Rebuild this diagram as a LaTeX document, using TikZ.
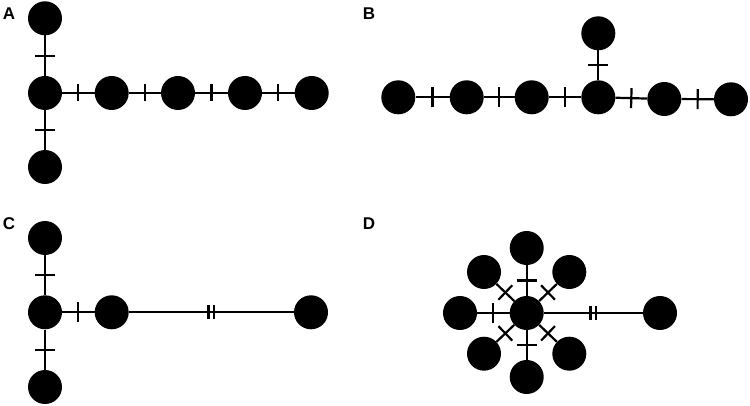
\documentclass[tikz,border=0pt]{standalone}
\usepackage{fontspec}
\setmainfont{Liberation Sans}
\usetikzlibrary{decorations.markings}
\begin{document}
\begin{tikzpicture}[x=1pt,y=-1pt,
  dot/.style={circle,fill=black,inner sep=0pt,minimum size=34pt},
  lbl/.style={font=\bfseries\fontsize{17}{19}\selectfont,inner sep=0pt},
  edge/.style={line width=2.2pt},
  tk/.style={postaction={decorate},decoration={markings,
     mark=at position 0.5 with {\draw[line width=2.2pt] (0,-#1pt) -- (0,#1pt);}}},
  tk/.default=10,
  tktwo/.style={postaction={decorate},decoration={markings,
     mark=at position 0.5 with {\draw[line width=2.2pt] (-2.8pt,-7pt) -- (-2.8pt,7pt) (2.8pt,-7pt) -- (2.8pt,7pt);}}}
]
\useasboundingbox (0,0) rectangle (750,406);
% labels
\node[lbl] (LA) at (9,14) {A};
\node[lbl] (LB) at (369,14) {B};
\node[lbl] (LC) at (9,224) {C};
\node[lbl] (LD) at (369,224) {D};
% Panel A
\node[dot] (a0) at (45,93) {};
\node[dot] (a1) at (45,18.3) {};
\node[dot] (a2) at (45,167) {};
\node[dot] (a3) at (111.7,93) {};
\node[dot] (a4) at (178,93) {};
\node[dot] (a5) at (245,93) {};
\node[dot] (a6) at (311.7,93) {};
\draw[edge,tk] (a1) -- (a0);
\draw[edge,tk] (a0) -- (a2);
\draw[edge,tk=8.5] (a0) -- (a3);
\draw[edge,tk=8.5] (a3) -- (a4);
\draw[edge,tk=8.5] (a4) -- (a5);
\draw[edge,tk=8.5] (a5) -- (a6);
% Panel B
\node[dot] (b1) at (398.3,97.3) {};
\node[dot] (b2) at (466.7,97.3) {};
\node[dot] (b3) at (531.7,97.3) {};
\node[dot] (b4) at (598.3,97.3) {};
\node[dot] (b5) at (664.3,99) {};
\node[dot] (b6) at (731,99.3) {};
\node[dot] (b7) at (598.3,33.3) {};
\draw[edge,tk] (b1) -- (b2);
\draw[edge,tk] (b2) -- (b3);
\draw[edge,tk] (b3) -- (b4);
\draw[edge,tk] (b4) -- (b5);
\draw[edge,tk] (b5) -- (b6);
\draw[edge,tk] (b7) -- (b4);
% Panel C
\node[dot] (c0) at (45,312.3) {};
\node[dot] (c1) at (45,238) {};
\node[dot] (c2) at (45,387) {};
\node[dot] (c3) at (111.7,312.3) {};
\node[dot] (c4) at (311,312.3) {};
\draw[edge,tk] (c1) -- (c0);
\draw[edge,tk] (c0) -- (c2);
\draw[edge,tk] (c0) -- (c3);
\draw[edge,tktwo] (c3) -- (c4);
% Panel D
\node[dot] (d0) at (526.7,313) {};
\node[dot] (dt) at (526.7,248) {};
\node[dot] (db) at (526.7,377) {};
\node[dot] (dl) at (460,313) {};
\node[dot] (dul) at (484,272) {};
\node[dot] (dur) at (569.3,272) {};
\node[dot] (dll) at (484,353.7) {};
\node[dot] (dlr) at (569.3,353.7) {};
\node[dot] (dfar) at (660,313) {};
\draw[edge,tk] (dt) -- (d0);
\draw[edge,tk] (d0) -- (db);
\draw[edge,tk] (dl) -- (d0);
\draw[edge,tk] (dul) -- (d0);
\draw[edge,tk] (dur) -- (d0);
\draw[edge,tk] (dll) -- (d0);
\draw[edge,tk] (dlr) -- (d0);
\draw[edge,tktwo] (d0) -- (dfar);
\end{tikzpicture}
\end{document}
